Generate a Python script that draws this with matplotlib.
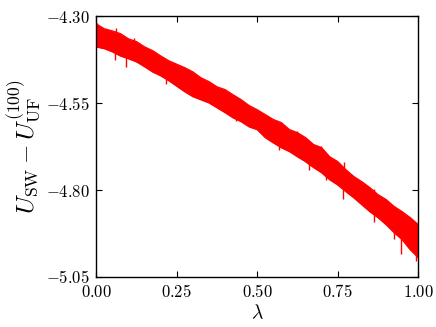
import numpy as np
import matplotlib
matplotlib.use('Agg')
import matplotlib.pyplot as plt

plt.rcParams['mathtext.fontset'] = 'cm'
plt.rcParams['font.family'] = 'serif'
plt.rcParams['font.serif'] = ['DejaVu Serif']

# lambda grid and the upper / lower edge of the noisy red band
lam = [0.000, 0.025, 0.050, 0.075, 0.100, 0.125, 0.150, 0.175, 0.200, 0.225,
       0.250, 0.275, 0.300, 0.325, 0.350, 0.375, 0.400, 0.425, 0.450, 0.475,
       0.500, 0.525, 0.550, 0.575, 0.600, 0.625, 0.650, 0.675, 0.700, 0.725,
       0.750, 0.775, 0.800, 0.825, 0.850, 0.875, 0.900, 0.925, 0.950, 0.975, 1.000]
upper = [-4.322, -4.336, -4.342, -4.350, -4.365, -4.373, -4.388, -4.399, -4.414, -4.428,
         -4.438, -4.448, -4.460, -4.477, -4.488, -4.503, -4.511, -4.526, -4.540, -4.557,
         -4.569, -4.583, -4.597, -4.606, -4.626, -4.635, -4.649, -4.669, -4.678, -4.704,
         -4.718, -4.741, -4.761, -4.776, -4.793, -4.813, -4.827, -4.847, -4.862, -4.879, -4.899]
lower = [-4.388, -4.393, -4.402, -4.414, -4.422, -4.431, -4.445, -4.460, -4.471, -4.485,
         -4.501, -4.517, -4.531, -4.540, -4.549, -4.563, -4.577, -4.592, -4.603, -4.618,
         -4.626, -4.649, -4.664, -4.678, -4.689, -4.704, -4.718, -4.735, -4.750, -4.770,
         -4.785, -4.804, -4.822, -4.842, -4.862, -4.879, -4.899, -4.922, -4.942, -4.971, -4.994]

# single noise spikes sticking out of the band
spike_lam = [0.002, 0.060, 0.117, 0.319, 0.623, 0.697, 0.770, 0.863,
             0.057, 0.091, 0.215, 0.277, 0.433, 0.568, 0.661, 0.713,
             0.768, 0.863, 0.925, 0.946, 0.993]
spike_val = [-4.318, -4.334, -4.362, -4.474, -4.629, -4.672, -4.718, -4.797,
             -4.427, -4.445, -4.494, -4.511, -4.602, -4.684, -4.741, -4.770,
             -4.827, -4.893, -4.942, -4.985, -5.005]

xticks = [0.00, 0.25, 0.50, 0.75, 1.00]
yticks = [-4.30, -4.55, -4.80, -5.05]

fig = plt.figure(figsize=(4.36, 3.27), dpi=100)
ax = fig.add_axes([0.221, 0.153, 0.738, 0.797])

ax.fill_between(lam, lower, upper, color='#ff0000', lw=0)
ax.plot(lam, upper, color='#ff0000', lw=1)
ax.plot(lam, lower, color='#ff0000', lw=1)
mid = (np.array(upper) + np.array(lower)) / 2
ax.vlines(spike_lam, spike_val, np.interp(spike_lam, lam, mid), color='#ff0000', lw=1)

ax.set_xlim(0, 1)
ax.set_ylim(-5.05, -4.30)
ax.set_xticks(xticks)
ax.set_yticks(yticks)
ax.set_xticklabels([r'$%.2f$' % v for v in xticks], fontsize=12)
ax.set_yticklabels([r'$%.2f$' % v for v in yticks], fontsize=12)
ax.tick_params(direction='in', top=True, right=True, length=4, width=0.8, pad=5)
for s in ax.spines.values():
    s.set_linewidth(1.0)

ax.set_xlabel(r'$\lambda$', fontsize=14, labelpad=2)
ax.set_ylabel(r'$U_{\mathrm{SW}} - U_{\mathrm{UF}}^{(100)}$', fontsize=18, labelpad=2)

fig.savefig('out.png', dpi=100)
